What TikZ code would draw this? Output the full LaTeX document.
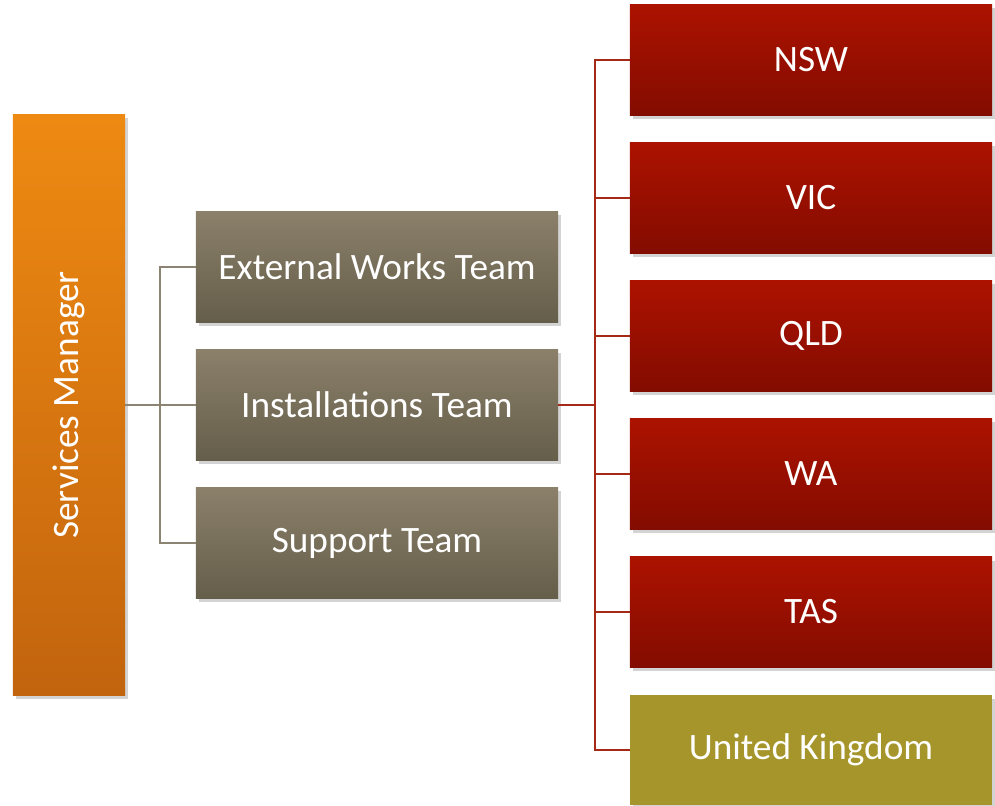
\documentclass[tikz,border=0pt]{standalone}
\usepackage{fontspec}
\setmainfont{Carlito}
\usetikzlibrary{shadows}

\definecolor{mgrtop}{HTML}{EE8A12}
\definecolor{mgrbot}{HTML}{C2640E}
\definecolor{teamtop}{HTML}{8B806A}
\definecolor{teambot}{HTML}{655E4A}
\definecolor{statetop}{HTML}{AC1200}
\definecolor{statebot}{HTML}{830C00}
\definecolor{ukfill}{HTML}{A5952B}
\definecolor{teamline}{HTML}{8C8472}
\definecolor{stateline}{HTML}{A52A16}

\tikzset{
  box/.style={inner sep=0pt, text=white, font=\fontsize{26.5}{30}\selectfont,
    drop shadow={shadow xshift=2pt, shadow yshift=-2.5pt, opacity=0.35}},
  mgrbox/.style={box, minimum width=2.8cm, minimum height=14.5cm,
    top color=mgrtop, bottom color=mgrbot},
  teambox/.style={box, minimum width=9.05cm, minimum height=2.75cm,
    top color=teamtop, bottom color=teambot},
  statebox/.style={box, minimum width=9.05cm, minimum height=2.75cm,
    top color=statetop, bottom color=statebot},
  ukbox/.style={box, minimum width=9.05cm, minimum height=2.75cm, fill=ukfill}
}

\begin{document}
\begin{tikzpicture}[x=0.025cm,y=-0.025cm]
\useasboundingbox (0,0) rectangle (995,806);

% Manager
\node[mgrbox] (mgr) at (69,405) {\rotatebox{90}{Services Manager}};

% Teams
\node[teambox] (ext) at (377,267) {External Works Team};
\node[teambox] (inst) at (377,405) {Installations Team};
\node[teambox] (sup) at (377,543) {Support Team};

% States
\node[statebox] (nsw) at (811,60) {NSW};
\node[statebox] (vic) at (811,198) {VIC};
\node[statebox] (qld) at (811,336) {QLD};
\node[statebox] (wa) at (811,474) {WA};
\node[statebox] (tas) at (811,612) {TAS};
\node[ukbox] (uk) at (811,750) {United Kingdom};

% Connectors
\draw[teamline, line width=1.2pt] (mgr.east) -- (inst.west);
\draw[teamline, line width=1.2pt] (ext.west) -- +(-36,0) |- (sup.west);
\draw[stateline, line width=1.5pt] (inst.east) -- +(37,0);
\draw[stateline, line width=1.2pt] (nsw.west) -- +(-35,0) |- (uk.west);
\foreach \s in {vic,qld,wa,tas}
\draw[stateline, line width=1.2pt] (\s.west) -- +(-35,0);
\end{tikzpicture}
\end{document}
